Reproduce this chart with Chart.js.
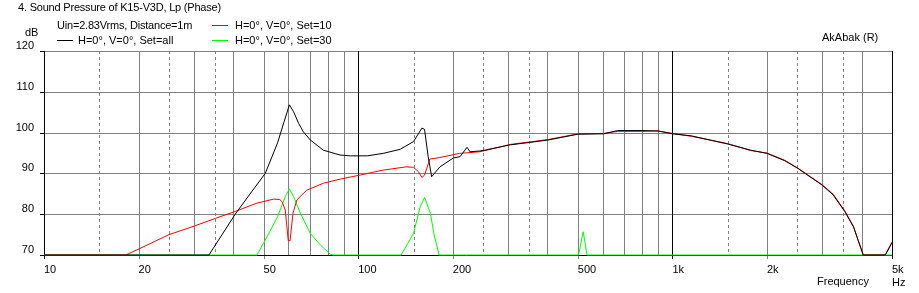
<!DOCTYPE html>
<html lang="en">
<head>
    <meta charset="UTF-8">
    <title>Sound Pressure of K15-V3D</title>
    <style>
        body { margin: 0; background: #fff; }
        #wrap { position: relative; width: 919px; height: 293px; font-family: "Liberation Sans", Arial, sans-serif; font-size: 11px; color: #000; }
        #wrap canvas { position: absolute; left: 0; top: 0; }
        .t { position: absolute; white-space: nowrap; line-height: 13px; }
        .tight { letter-spacing: -0.2px; }
        .key { position: absolute; height: 0; width: 16px; border-top: 1px solid; }
    </style>
</head>
<body>
<div id="wrap">
    <canvas id="spl" width="919" height="293"></canvas>
    <div class="t tight" style="left:18px; top:1px;">4. Sound Pressure of K15-V3D, Lp (Phase)</div>
    <div class="t tight" style="left:57px; top:19px;">Uin=2.83Vrms, Distance=1m</div>
    <div class="key" style="left:57px; top:40px; border-color:#000;"></div>
    <div class="t" style="left:78px; top:34px;">H=0°, V=0°, Set=all</div>
    <div class="key" style="left:212px; top:25px; border-color:#ff0000;"></div>
    <div class="t" style="left:235px; top:19px;">H=0°, V=0°, Set=10</div>
    <div class="key" style="left:212px; top:40px; border-color:#00ff00;"></div>
    <div class="t" style="left:235px; top:34px;">H=0°, V=0°, Set=30</div>
    <div class="t" style="left:25px; top:26px;">dB</div>
    <div class="t" style="left:822px; top:31px;">AkAbak (R)</div>
    <div class="t" style="left:817px; top:275px;">Frequency</div>
</div>

<script src="https://cdn.jsdelivr.net/npm/chart.js"></script>
<script>
    // Set=all (schwarz)
    const allFreq = [10, 33.5, 40.6, 45, 50.6, 55.4, 58, 60.4, 62.3, 64.6, 66.9, 70.4, 77.4, 87.5, 94.4, 106.8, 120, 136, 150, 159.5, 162.6, 167, 171.3, 182, 201, 211, 222, 227, 244, 253, 305, 352, 403, 500, 604, 670, 800, 900, 1000, 1150, 1500, 1775, 2000, 2280, 2510, 3000, 3250, 3540, 3770, 4050, 4760, 5000];
    const allDb   = [70, 70, 80, 84.7, 90, 97.5, 102.5, 106.8, 105.1, 102.3, 100.2, 98.2, 95.7, 94.5, 94.3, 94.3, 94.9, 95.9, 97.8, 101.1, 100.8, 94.1, 89.2, 91.6, 93.8, 94.1, 96.4, 95.3, 95.5, 95.7, 97, 97.6, 98.2, 99.6, 99.7, 100.5, 100.5, 100.4, 99.7, 99.2, 97.2, 95.7, 94.9, 93.1, 91.2, 87.1, 84.7, 80.6, 76.9, 70, 70, 73];

    // Set=10 (rot)
    const set10Freq = [10, 18.2, 20.2, 25, 30.1, 35.2, 40, 47.6, 53.8, 56.3, 57.2, 58.6, 59.9, 60.7, 62, 63.8, 68.6, 77.6, 87.6, 101.5, 120, 142, 150, 155.6, 159.5, 162.7, 169, 182, 210, 244, 305, 352, 403, 500, 604, 670, 800, 900, 1000, 1150, 1500, 1775, 2000, 2280, 2510, 3000, 3250, 3540, 3770, 4050, 4760, 5000];
    const set10Db   = [70, 70, 71.6, 75, 77.1, 79, 80.5, 82.7, 83.7, 83.6, 83.1, 81, 73.5, 73.5, 80.2, 83.5, 85.9, 87.6, 88.6, 89.6, 90.8, 91.6, 91.5, 90.4, 89, 89.6, 93.5, 93.9, 94.9, 95.3, 97.1, 97.7, 98.3, 99.7, 99.8, 100.3, 100.3, 100.4, 99.8, 99.1, 97.3, 95.6, 95, 93.2, 91.3, 87.2, 84.9, 80.8, 77, 70, 70, 73.2];

    // Set=30 (gruen)
    const set30Freq = [10, 47.6, 51.3, 55.4, 58.6, 60.4, 62.3, 65.5, 70.4, 75.7, 81.5, 83, 137, 150, 157.5, 162.7, 169.8, 174, 181, 503, 520, 535, 5000];
    const set30Db   = [70, 70, 74.5, 79.4, 84.3, 86.2, 84.3, 80.2, 75.3, 72.5, 70.2, 70, 70, 75.3, 81.8, 84.1, 80.2, 75.3, 70, 70, 75.7, 70, 70];

    // Achsen
    const freqLabels = [10, 20, 50, 100, 200, 500, 1000, 2000, 5000];
    const freqText = ['10', '20', '50', '100', '200', '500', '1k', '2k', ['5k', 'Hz']];
    const gridSolid = [20, 30, 40, 50, 60, 70, 80, 90, 200, 300, 400, 500, 600, 700, 800, 900, 2000, 3000, 4000];
    const gridDashed = [15, 25, 35, 150, 250, 350, 1500, 2500, 3500];
    const gridDecade = [10, 100, 1000, 5000];
    const dbTicks = [70, 80, 90, 100, 110, 120];

    const toPoints = (fs, ds) => fs.map((f, i) => ({ x: f, y: ds[i] }));

    // Gitternetz selbst zeichnen (gestrichelte Zwischenlinien)
    const gridPlugin = {
        id: 'akabakGrid',
        beforeDatasetsDraw(chart) {
            const { ctx, chartArea: a, scales: { x, y } } = chart;
            const px = v => Math.round(x.getPixelForValue(v)) + 0.5;
            const py = v => Math.round(y.getPixelForValue(v)) + 0.5;
            const line = (x1, y1, x2, y2) => { ctx.beginPath(); ctx.moveTo(x1, y1); ctx.lineTo(x2, y2); ctx.stroke(); };
            ctx.save();
            ctx.lineWidth = 1;
            ctx.strokeStyle = '#808080';
            dbTicks.slice(1).forEach(v => line(a.left, py(v), a.right, py(v)));
            gridSolid.forEach(v => line(px(v), a.top, px(v), a.bottom));
            ctx.setLineDash([3, 3]);
            gridDashed.forEach(v => line(px(v), a.top, px(v), a.bottom));
            ctx.setLineDash([]);
            // Tickmarks
            freqLabels.forEach(v => line(px(v), a.bottom, px(v), a.bottom + 4));
            ctx.strokeStyle = '#000';
            dbTicks.forEach(v => line(a.left - 4, py(v), a.left, py(v)));
            gridDecade.forEach(v => line(px(v), a.top, px(v), a.bottom + 4));
            line(a.left - 4, py(70), a.right + 1, py(70));
            ctx.restore();
        }
    };

    const tickFont = { family: 'Liberation Sans', size: 11 };

    new Chart(document.getElementById('spl'), {
        type: 'line',
        data: {
            datasets: [
                { label: 'Set=all', data: toPoints(allFreq, allDb), borderColor: '#000000' },
                { label: 'Set=10', data: toPoints(set10Freq, set10Db), borderColor: '#ff0000' },
                { label: 'Set=30', data: toPoints(set30Freq, set30Db), borderColor: '#00ff00' }
            ]
        },
        options: {
            responsive: false,
            animation: false,
            devicePixelRatio: 1,
            events: [],
            layout: { padding: { top: 51, right: 27, left: 0, bottom: 0 } },
            datasets: { line: { borderWidth: 1, pointRadius: 0, tension: 0, clip: false } },
            plugins: { legend: { display: false }, tooltip: { enabled: false } },
            scales: {
                x: {
                    type: 'logarithmic',
                    min: 10,
                    max: 5000,
                    grid: { display: false, drawTicks: false },
                    border: { display: false },
                    afterFit: s => { s.height = 38; },
                    afterBuildTicks: s => { s.ticks = freqLabels.map(v => ({ value: v })); },
                    ticks: {
                        autoSkip: false,
                        maxRotation: 0,
                        align: 'start',
                        padding: 8,
                        color: '#000',
                        font: tickFont,
                        callback: v => freqText[freqLabels.indexOf(v)]
                    }
                },
                y: {
                    min: 70,
                    max: 120,
                    grid: { display: false, drawTicks: false },
                    border: { display: false },
                    afterFit: s => { s.width = 44; },
                    afterBuildTicks: s => { s.ticks = dbTicks.map(v => ({ value: v })); },
                    ticks: { padding: 10, labelOffset: -5, color: '#000', font: tickFont }
                }
            }
        },
        plugins: [gridPlugin]
    });
</script>
</body>
</html>
